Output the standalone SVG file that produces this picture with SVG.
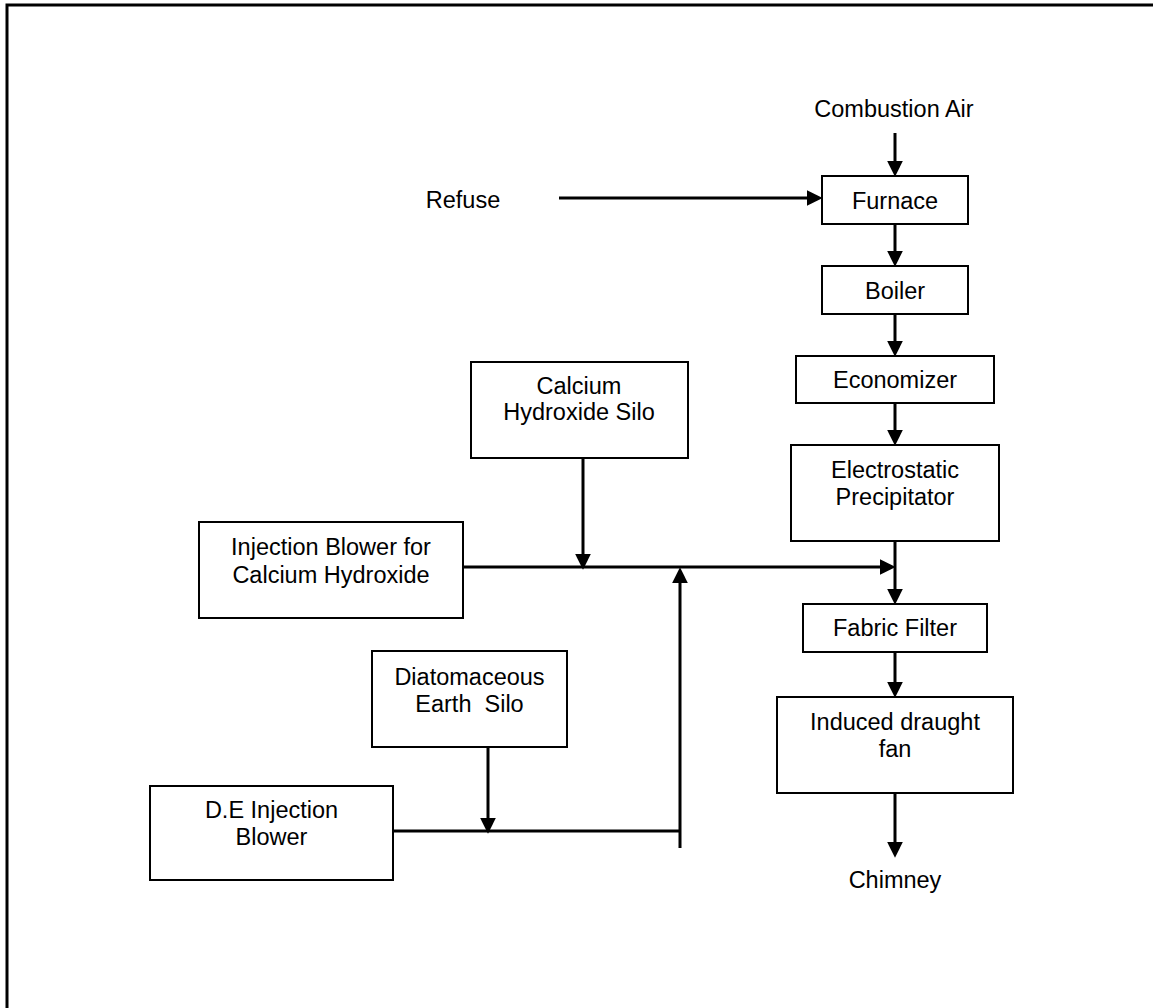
<svg xmlns="http://www.w3.org/2000/svg" width="1153" height="1008" viewBox="0 0 1153 1008">
<style>
.box{fill:#fff;stroke:#000;stroke-width:2}
.t{font-family:"Liberation Sans",Arial,sans-serif;font-size:23.5px;fill:#000;text-anchor:middle}
.c{stroke:#000;stroke-width:3;fill:none}
.a{stroke:#000;stroke-width:3;fill:none;marker-end:url(#ah)}
</style>
<defs>
<marker id="ah" markerUnits="userSpaceOnUse" markerWidth="16" markerHeight="16" viewBox="0 0 15 15" refX="5" refY="7.5" orient="auto">
<path d="M0,0 L15,7.5 L0,15 z" fill="#000"/>
</marker>
</defs>
<rect x="0" y="0" width="1153" height="1008" fill="#fff"/>
<rect x="7" y="5" width="1160" height="1015" fill="none" stroke="#000" stroke-width="3"/>
<g id="connectors">
<line class="a" x1="895" y1="133" x2="895" y2="166"/>
<line class="a" x1="559" y1="198" x2="812" y2="198"/>
<line class="a" x1="895" y1="224" x2="895" y2="256"/>
<line class="a" x1="895" y1="314" x2="895" y2="346"/>
<line class="a" x1="895" y1="403" x2="895" y2="435"/>
<line class="a" x1="895" y1="541" x2="895" y2="594"/>
<line class="a" x1="463" y1="567" x2="885" y2="567"/>
<line class="a" x1="583" y1="452" x2="583" y2="559"/>
<line class="a" x1="680" y1="848" x2="680" y2="578"/>
<line class="c" x1="393" y1="831" x2="681" y2="831"/>
<line class="a" x1="488" y1="742" x2="488" y2="823"/>
<line class="a" x1="895" y1="652" x2="895" y2="687"/>
<line class="a" x1="895" y1="793" x2="895" y2="847"/>
</g>
<g id="combustion-air"><text class="t" x="894" y="117">Combustion Air</text></g>
<g id="refuse"><text class="t" x="463" y="208">Refuse</text></g>
<g id="furnace"><rect class="box" x="822" y="176" width="146" height="48"/><text class="t" x="895" y="209">Furnace</text></g>
<g id="boiler"><rect class="box" x="822" y="266" width="146" height="48"/><text class="t" x="895" y="299">Boiler</text></g>
<g id="economizer"><rect class="box" x="796" y="356" width="198" height="47"/><text class="t" x="895" y="388">Economizer</text></g>
<g id="esp"><rect class="box" x="791" y="445" width="208" height="96"/><text class="t" x="895" y="478">Electrostatic</text><text class="t" x="895" y="505">Precipitator</text></g>
<g id="fabric-filter"><rect class="box" x="803" y="604" width="184" height="48"/><text class="t" x="895" y="636">Fabric Filter</text></g>
<g id="id-fan"><rect class="box" x="777" y="697" width="236" height="96"/><text class="t" x="895" y="730">Induced draught</text><text class="t" x="895" y="757">fan</text></g>
<g id="chimney"><text class="t" x="895" y="888">Chimney</text></g>
<g id="ca-silo"><rect class="box" x="471" y="362" width="217" height="96"/><text class="t" x="579" y="394">Calcium</text><text class="t" x="579" y="420">Hydroxide Silo</text></g>
<g id="ca-blower"><rect class="box" x="199" y="522" width="264" height="96"/><text class="t" x="331" y="555">Injection Blower for</text><text class="t" x="331" y="583">Calcium Hydroxide</text></g>
<g id="de-silo"><rect class="box" x="372" y="651" width="195" height="96"/><text class="t" x="469.5" y="685">Diatomaceous</text><text class="t" x="469.5" y="712" xml:space="preserve">Earth  Silo</text></g>
<g id="de-blower"><rect class="box" x="150" y="786" width="243" height="94"/><text class="t" x="271.5" y="818">D.E Injection</text><text class="t" x="271.5" y="845">Blower</text></g>
</svg>
